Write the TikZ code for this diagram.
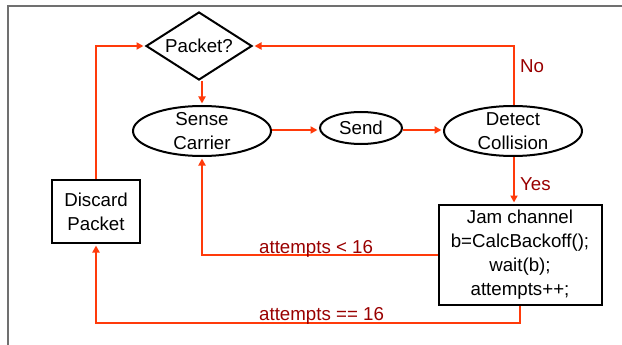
\documentclass[tikz,border=0pt]{standalone}
\usepackage{fontspec}
\setmainfont{Liberation Sans}
\usetikzlibrary{shapes.geometric,arrows.meta}
\definecolor{flow}{RGB}{255,58,10}
\definecolor{cond}{RGB}{153,0,0}
\definecolor{frame}{RGB}{112,112,112}
\tikzset{
  txt/.style={font=\fontsize{18.7}{24}\selectfont, align=center, inner sep=0pt},
  blk/.style={draw=black, line width=2pt},
  decision/.style={blk, diamond, minimum width=106pt, minimum height=68pt, inner sep=0pt},
  stage/.style={blk, ellipse, inner sep=0pt},
  action/.style={blk, rectangle, txt},
  arr/.style={draw=flow, line width=2pt, -{Triangle[length=7pt,width=7pt]}, shorten >=1.5pt},
  ln/.style={draw=flow, line width=2pt},
  lbl/.style={txt, text=cond}
}
\begin{document}
\begin{tikzpicture}[x=1pt,y=-1pt]
  \useasboundingbox (0,0) rectangle (622,345);
  % outer frame
  \draw[frame, line width=1.5pt] (8,345) -- (8,6) -- (622,6);

  % shapes
  \node[decision] (dia) at (199,46) {};
  \node[txt] at (dia) {Packet?};
  \node[stage, minimum width=138pt, minimum height=50pt] (sc) at (202,131) {};
  \node[txt] at (sc) {Sense\\Carrier};
  \node[stage, minimum width=82pt, minimum height=32pt] (snd) at (361,128) {};
  \node[txt] at (snd) {Send};
  \node[stage, minimum width=138pt, minimum height=50pt] (dc) at (513,131) {};
  \node[txt] at (dc) {Detect\\Collision};
  \node[action, minimum width=163pt, minimum height=100pt] (jam) at (520,255)
    {Jam channel\\b=CalcBackoff();\\wait(b);\\attempts++;};
  \node[action, minimum width=88pt, minimum height=63pt] (disc) at (96,211.5)
    {Discard\\Packet};

  % turning points
  \coordinate (noTop) at (514,46);
  \coordinate (jamBot) at (520,323);
  \coordinate (discTop) at (96,46);

  % connectors
  \draw[arr] (dia.south -| sc.north) -- (sc.north);
  \draw[arr] (sc.east |- 0,130) -- (snd.west |- 0,130);
  \draw[arr] (snd.east |- 0,130) -- (dc.west |- 0,130);
  \draw[arr] (dc.north -| noTop) -- (noTop) -- (dia.east);
  \draw[arr] (dc.south -| noTop) -- (jam.north -| noTop);
  \draw[arr] (jam.west) -| (sc.south);
  \draw[arr] (jam.south) -- (jamBot) -| (disc.south);
  \draw[arr] (disc.north) -- (discTop) -- (dia.west);

  % branch labels
  \node[lbl, anchor=west] (lno) at (520,66) {No};
  \node[lbl, anchor=west] (lyes) at (520,184) {Yes};
  \node[lbl, anchor=base west] (lless) at (259,253) {attempts < 16};
  \node[lbl, anchor=base west] (leq) at (259,320.5) {attempts == 16};
\end{tikzpicture}
\end{document}
